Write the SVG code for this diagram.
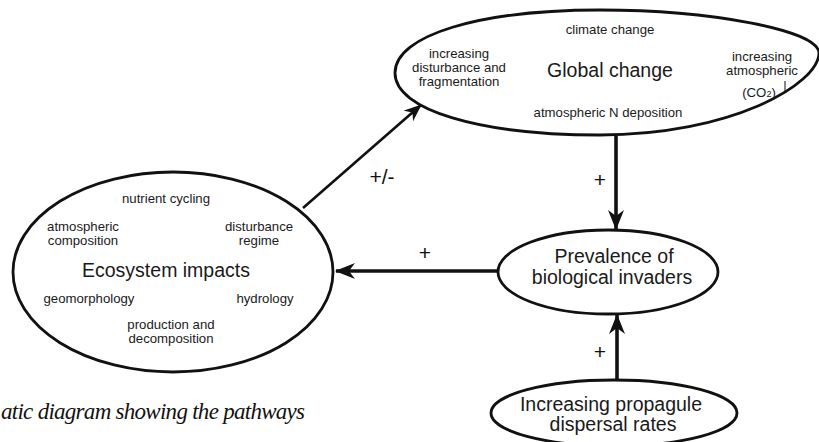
<svg xmlns="http://www.w3.org/2000/svg" width="819" height="442" viewBox="0 0 819 442">
<style>
  .shape{fill:#fff;stroke:#111;stroke-width:2.8}
  .main{font-family:"Liberation Sans",Arial,sans-serif;font-size:19.5px;fill:#1a1a1a;text-anchor:middle}
  .sub{font-family:"Liberation Sans",Arial,sans-serif;font-size:13.2px;fill:#1a1a1a;text-anchor:middle}
  .sign{font-family:"Liberation Sans",Arial,sans-serif;font-size:21px;fill:#111;text-anchor:middle}
  .conn{stroke:#111;fill:none}
  .cap{font-family:"Liberation Serif","Times New Roman",serif;font-style:italic;font-size:23px;fill:#111}
</style>
<defs>
  <marker id="ah" viewBox="0 0 20 16" refX="19" refY="8" markerWidth="20" markerHeight="16" markerUnits="userSpaceOnUse" orient="auto">
    <path d="M0,0 L20,8 L0,16 L6,8 Z" fill="#111"/>
  </marker>
  <marker id="ahs" viewBox="0 0 20 16" refX="19" refY="8" markerWidth="18" markerHeight="14" markerUnits="userSpaceOnUse" orient="auto">
    <path d="M0,0 L20,8 L0,16 L6,8 Z" fill="#111"/>
  </marker>
</defs>

<g id="connectors">
  <line class="conn" x1="303" y1="208" x2="421" y2="105" stroke-width="2.6" marker-end="url(#ahs)"/>
  <line class="conn" x1="616" y1="136" x2="616" y2="229" stroke-width="3.6" marker-end="url(#ah)"/>
  <line class="conn" x1="498" y1="271" x2="336" y2="271" stroke-width="3.4" marker-end="url(#ah)"/>
  <line class="conn" x1="617" y1="381" x2="617" y2="315" stroke-width="3.6" marker-end="url(#ah)"/>
  <text class="sign" x="382" y="184">+/-</text>
  <text class="sign" x="600" y="187">+</text>
  <text class="sign" x="425" y="260">+</text>
  <text class="sign" x="600" y="359">+</text>
</g>

<g id="global-change">
  <path class="shape" d="M395,73 C395,35 480,10 600,10 C710,10 818,30 819,53 C818,85 730,135 600,135 C480,135 395,110 395,73 Z"/>
  <text class="sub" x="610" y="34">climate change</text>
  <text class="sub" x="459" y="58">increasing</text>
  <text class="sub" x="459" y="72">disturbance and</text>
  <text class="sub" x="459" y="86">fragmentation</text>
  <text class="main" x="610" y="77">Global change</text>
  <text class="sub" x="762" y="61">increasing</text>
  <text class="sub" x="762" y="75">atmospheric</text>
  <text class="sub" x="759" y="97">(CO<tspan font-size="9px">2</tspan>)</text>
  <line x1="785" y1="81" x2="785" y2="92" stroke="#111" stroke-width="1"/>
  <text class="sub" x="608" y="117">atmospheric N deposition</text>
</g>

<g id="ecosystem-impacts">
  <ellipse class="shape" cx="173" cy="272" rx="160" ry="100"/>
  <text class="sub" x="166" y="203">nutrient cycling</text>
  <text class="sub" x="83" y="231">atmospheric</text>
  <text class="sub" x="83" y="245">composition</text>
  <text class="sub" x="259" y="231">disturbance</text>
  <text class="sub" x="259" y="245">regime</text>
  <text class="main" x="166" y="277">Ecosystem impacts</text>
  <text class="sub" x="89" y="303">geomorphology</text>
  <text class="sub" x="265" y="303">hydrology</text>
  <text class="sub" x="171" y="329">production and</text>
  <text class="sub" x="171" y="343">decomposition</text>
</g>

<g id="prevalence">
  <ellipse class="shape" cx="608" cy="272" rx="110" ry="42"/>
  <text class="main" x="614" y="263">Prevalence of</text>
  <text class="main" x="612" y="284">biological invaders</text>
</g>

<g id="propagule">
  <ellipse class="shape" cx="614" cy="413" rx="123" ry="33"/>
  <text class="main" x="611" y="411">Increasing propagule</text>
  <text class="main" x="613" y="431">dispersal rates</text>
</g>

<text class="cap" x="1" y="419" textLength="304">atic diagram showing the pathways</text>
</svg>
